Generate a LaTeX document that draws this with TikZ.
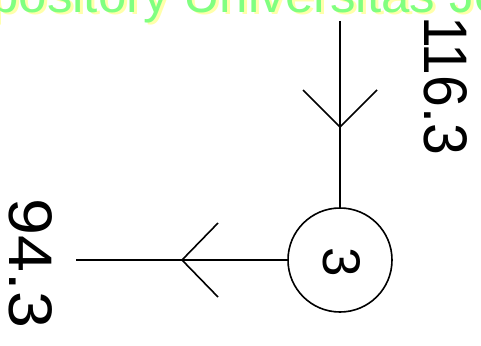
\documentclass[tikz,border=0pt]{standalone}
\usepackage{fontspec}
\setmainfont{Liberation Sans}
\definecolor{wmgreen}{RGB}{128,255,128}
\definecolor{wmyellow}{RGB}{255,255,170}
\begin{document}
\begin{tikzpicture}[x=1pt,y=-1pt,
  wire/.style={line width=1.6pt,black,line cap=butt},
  lbl/.style={inner sep=0pt,rotate=-90,black},
  wm/.style={inner sep=0pt,anchor=base west,font=\fontsize{51}{51}\selectfont}]
\useasboundingbox (0,0) rectangle (481,345);
% watermark
\node[wm,text=wmyellow] (wmy) at (-72,15) {Repository Universitas Jember};
\node[wm,text=wmgreen] (wmg) at (-75,13) {Repository Universitas Jember};
% bus circle
\node[draw,circle,line width=1.6pt,minimum size=104pt,inner sep=0pt] (c) at (340,260) {};
\node[lbl,font=\fontsize{53}{53}\selectfont] (cn) at (342,262) {3};
% connectors
\coordinate (top) at (340,21);
\coordinate (left) at (76,260);
\draw[wire] (top) -- (c.north);
\draw[wire] (left) -- (c.west);
% chevrons
\coordinate (t1) at (340,127);
\coordinate (t2) at (182,260);
\draw[wire] (303,90) -- (t1) -- (377,90);
\draw[wire] (218,223) -- (t2) -- (218,297);
% labels
\node[lbl,font=\fontsize{61.5}{61.5}\selectfont,xscale=0.93] (l1) at (446,85.5) {116.3};
\node[lbl,font=\fontsize{61.5}{61.5}\selectfont,xscale=1.08] (l2) at (31,263.5) {94.3};
\end{tikzpicture}
\end{document}
